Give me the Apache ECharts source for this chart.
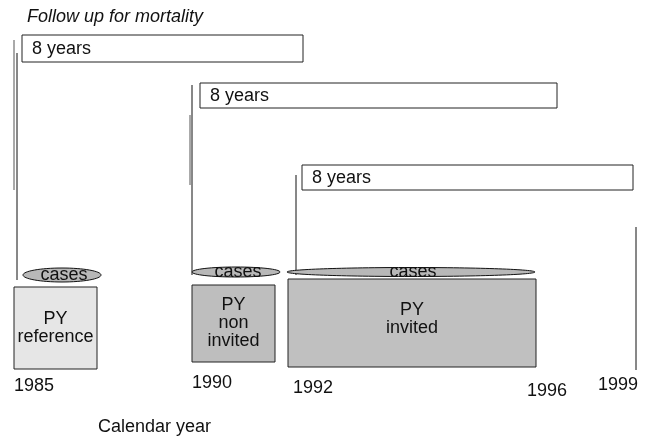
<!DOCTYPE html>
<html>
<head>
<meta charset="utf-8">
<script src="https://cdn.jsdelivr.net/npm/echarts@6/dist/echarts.min.js"></script>
<style>
  html, body { margin: 0; padding: 0; background: #fff; }
  #chart { width: 648px; height: 437px; }
</style>
</head>
<body>
<div id="chart"></div>
<script>
// schematic diagram, x/y in figure units (not calendar-linear)
var followLabels = ['8 years', '8 years', '8 years'];
var followStart = [22, 200, 302];
var followEnd = [303, 557, 633];
var followTop = [35, 83, 165];
var followBottom = [62, 108, 190];

// vertical start markers: x, top, bottom
var markX = [17, 14, 192, 190, 296, 636];
var markTop = [53, 40, 85, 115, 175, 227];
var markBottom = [280, 190, 275, 185, 275, 370];

// cases ellipses
var casesX = [62, 236, 411];
var casesY = [275, 272, 272];
var casesRx = [39, 44, 124];
var casesRy = [7, 5, 4.5];

// person-years boxes
var pyLabels = ['PY\nreference', 'PY\nnon\ninvited', 'PY\ninvited'];
var pyStart = [14, 192, 288];
var pyEnd = [97, 275, 536];
var pyTop = [287, 285, 279];
var pyBottom = [369, 362, 367];
var pyFill = ['#e6e6e6', '#bebebe', '#c0c0c0'];

// calendar year labels
var years = ['1985', '1990', '1992', '1996', '1999'];
var yearX = [14, 192, 293, 527, 598];
var yearY = [386, 383, 388, 391, 385];

var FONT = '"Liberation Sans", Arial, sans-serif';
var FS = 18;

var chart = echarts.init(document.getElementById('chart'));

function idx(arr) {
    return arr.map(function (v, i) { return [i]; });
}

function renderFollow(params, api) {
    var i = params.dataIndex;
    var p0 = api.coord([followStart[i], followTop[i]]);
    var p1 = api.coord([followEnd[i], followBottom[i]]);
    return {
        type: 'group',
        children: [{
            type: 'rect',
            shape: { x: p0[0], y: p0[1], width: p1[0] - p0[0], height: p1[1] - p0[1] },
            style: { fill: '#fff', stroke: '#222', lineWidth: 1 }
        }, {
            type: 'text',
            x: p0[0] + 10,
            y: (p0[1] + p1[1]) / 2 + 1,
            style: {
                text: followLabels[i], fill: '#111', fontSize: FS, fontFamily: FONT,
                verticalAlign: 'middle', align: 'left'
            }
        }]
    };
}

function renderMark(params, api) {
    var i = params.dataIndex;
    var a = api.coord([markX[i], markTop[i]]);
    var b = api.coord([markX[i], markBottom[i]]);
    return {
        type: 'line',
        shape: { x1: a[0], y1: a[1], x2: b[0], y2: b[1] },
        style: { stroke: i % 2 && i < 4 ? '#555' : '#111', lineWidth: 1 }
    };
}

function renderCases(params, api) {
    var i = params.dataIndex;
    var c = api.coord([casesX[i], casesY[i]]);
    return {
        type: 'group',
        children: [{
            type: 'ellipse',
            shape: { cx: c[0], cy: c[1], rx: casesRx[i], ry: casesRy[i] },
            style: { fill: '#b8b8b8', stroke: '#111', lineWidth: 1 }
        }, {
            type: 'text',
            x: c[0] + 2,
            y: c[1],
            style: {
                text: 'cases', fill: '#111', fontSize: FS, fontFamily: FONT,
                align: 'center', verticalAlign: 'middle'
            }
        }]
    };
}

function renderPY(params, api) {
    var i = params.dataIndex;
    var p0 = api.coord([pyStart[i], pyTop[i]]);
    var p1 = api.coord([pyEnd[i], pyBottom[i]]);
    return {
        type: 'group',
        children: [{
            type: 'rect',
            shape: { x: p0[0], y: p0[1], width: p1[0] - p0[0], height: p1[1] - p0[1] },
            style: { fill: pyFill[i], stroke: '#222', lineWidth: 1 }
        }, {
            type: 'text',
            x: (p0[0] + p1[0]) / 2,
            y: i === 2 ? p0[1] + 40 : (p0[1] + p1[1]) / 2,
            style: {
                text: pyLabels[i], fill: '#111', fontSize: FS, fontFamily: FONT,
                lineHeight: 18, align: 'center', verticalAlign: 'middle'
            }
        }]
    };
}

function renderYear(params, api) {
    var i = params.dataIndex;
    var p = api.coord([yearX[i], yearY[i]]);
    return {
        type: 'text',
        x: p[0],
        y: p[1],
        style: {
            text: years[i], fill: '#111', fontSize: FS, fontFamily: FONT,
            align: 'left', verticalAlign: 'middle'
        }
    };
}

chart.setOption({
    animation: false,
    grid: { left: 0, right: 0, top: 0, bottom: 0 },
    xAxis: { type: 'value', min: 0, max: 648, show: false },
    yAxis: { type: 'value', min: 0, max: 437, inverse: true, show: false },
    graphic: [{
        type: 'text', left: 27, top: 8,
        style: { text: 'Follow up for mortality', fill: '#111', fontSize: FS, fontStyle: 'italic', fontFamily: FONT }
    }, {
        type: 'text', left: 98, top: 418,
        style: { text: 'Calendar year', fill: '#111', fontSize: FS, fontFamily: FONT }
    }],
    series: [
        { type: 'custom', name: 'markers', data: idx(markX), renderItem: renderMark, silent: true },
        { type: 'custom', name: 'follow up', data: idx(followStart), renderItem: renderFollow, silent: true },
        { type: 'custom', name: 'PY', data: idx(pyStart), renderItem: renderPY, silent: true },
        { type: 'custom', name: 'cases', data: idx(casesX), renderItem: renderCases, silent: true },
        { type: 'custom', name: 'years', data: idx(years), renderItem: renderYear, silent: true }
    ]
});
</script>
</body>
</html>
